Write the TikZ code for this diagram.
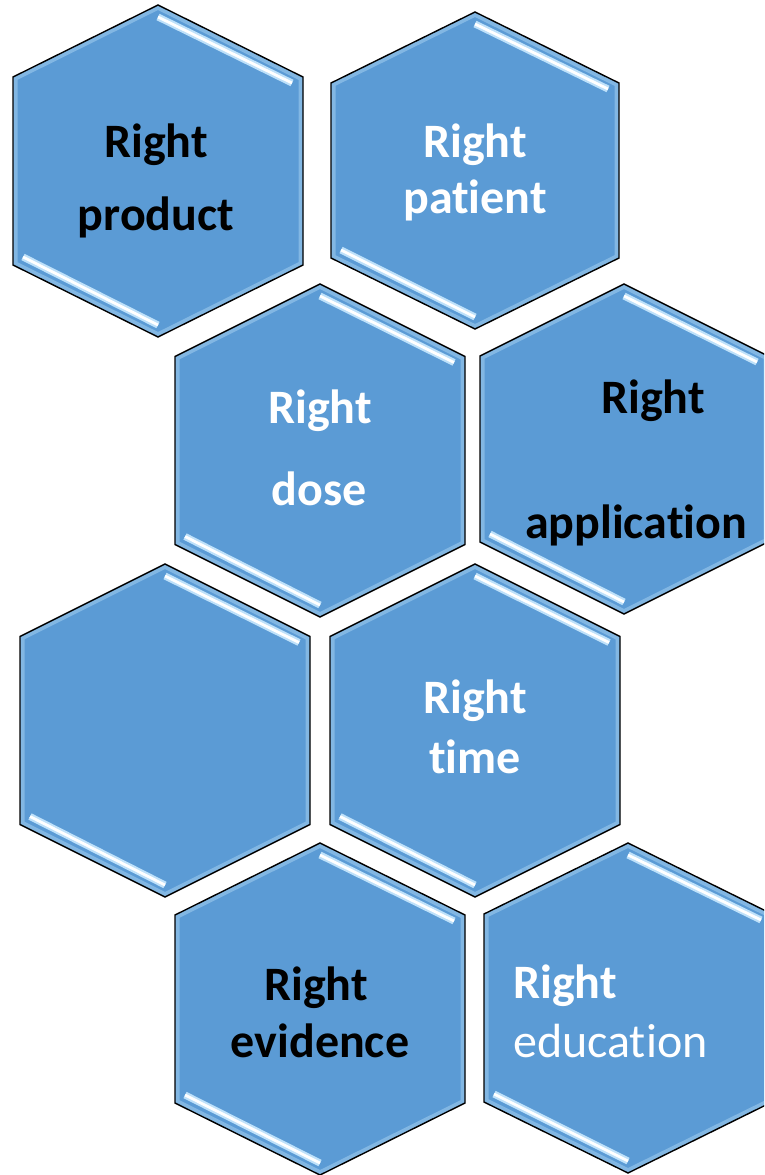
\documentclass[tikz,border=0pt]{standalone}
\usepackage{fontspec}
\setmainfont{Carlito}[Ligatures=NoCommon]
\definecolor{hexblue}{RGB}{91,155,213}
\definecolor{hexglow}{RGB}{190,225,250}
\tikzset{
  lbl/.style={anchor=base, inner sep=0pt, font=\fontsize{48}{48}\selectfont\bfseries},
  lblw/.style={lbl, text=white},
  lblk/.style={lbl, text=black},
  hexfill/.style={fill=hexblue},
  hexedge/.style={draw=black, line width=1.4pt, line join=miter},
  hexglowline/.style={draw=hexglow, line width=9pt, opacity=0.4},
  hilite/.style={draw=hexglow, line width=7pt},
  hilitecore/.style={draw=white, line width=2.8pt},
}
% cx cy halfwidth halfheight cornerheight name
\newcommand\hexcell[6]{%
  \coordinate (#6) at (#1,#2);
  \begin{scope}[shift={(#1,#2)}]
    \path[hexfill] (0,-#4) -- (#3,-#5) -- (#3,#5) -- (0,#4) -- (-#3,#5) -- (-#3,-#5) -- cycle;
    \begin{scope}
      \clip (0,-#4) -- (#3,-#5) -- (#3,#5) -- (0,#4) -- (-#3,#5) -- (-#3,-#5) -- cycle;
      \path[hexglowline] (0,-#4) -- (#3,-#5) -- (#3,#5) -- (0,#4) -- (-#3,#5) -- (-#3,-#5) -- cycle;
      \path[hilite] (0,-#4+12) -- (#3-11,-#5+6);
      \path[hilitecore] (0,-#4+12) -- (#3-11,-#5+6);
      \path[hilite] (-#3+10,#5-8) -- (0,#4-12);
      \path[hilitecore] (-#3+10,#5-8) -- (0,#4-12);
    \end{scope}
    \path[hexedge] (0,-#4) -- (#3,-#5) -- (#3,#5) -- (0,#4) -- (-#3,#5) -- (-#3,-#5) -- cycle;
  \end{scope}%
}
\begin{document}
\begin{tikzpicture}[x=1pt,y=-1pt]
  \useasboundingbox (0,0) rectangle (764,1175);
  \clip (0,0) rectangle (764,1175);
  \fill[white] (0,0) rectangle (764,1175);

  \hexcell{158}{171}{145}{166}{94}{hproduct}
  \hexcell{475}{170.5}{144}{158.5}{87.5}{hpatient}
  \hexcell{320}{450.5}{145}{166.5}{94}{hdose}
  \hexcell{624}{449}{144}{165}{93}{happlication}
  \hexcell{165}{730.5}{145}{166.5}{94}{hempty}
  \hexcell{475}{730.5}{145}{166.5}{94}{htime}
  \hexcell{320}{1009}{145}{166}{94}{hevidence}
  \hexcell{628}{1008}{144}{165}{94}{heducation}

  \node[lblk] (t1a) at (156,157) {Right};
  \node[lblk] (t1b) at (156,230) {product};
  \node[lblw] (t2a) at (475,157) {Right};
  \node[lblw] (t2b) at (475,213) {patient};
  \node[lblw] (t3a) at (320,423) {Right};
  \node[lblw] (t3b) at (319,505) {dose};
  \node[lblk] (t4a) at (653,413) {Right};
  \node[lblk] (t4b) at (636,538) {application};
  \node[lblw] (t6a) at (475,713) {Right};
  \node[lblw] (t6b) at (475,773) {time};
  \node[lblk] (t7a) at (316,1000) {Right};
  \node[lblk] (t7b) at (320,1057) {evidence};
  \node[lblw, anchor=base west] (t8a) at (513,998) {Right};
  \node[lblw, anchor=base west, font=\fontsize{48}{48}\selectfont\mdseries] (t8b) at (513,1057) {education};
\end{tikzpicture}
\end{document}
